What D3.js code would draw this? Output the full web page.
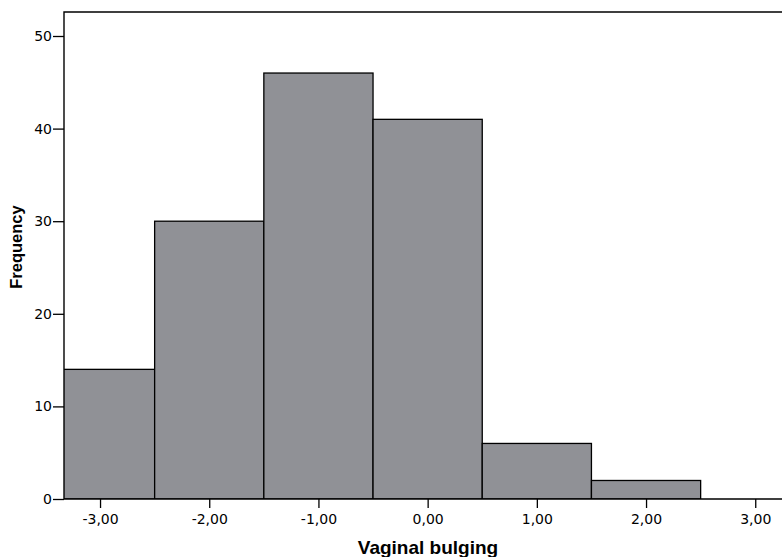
<!DOCTYPE html>
<html>
<head>
<meta charset="utf-8">
<script src="https://cdn.jsdelivr.net/npm/d3@7"></script>
<style>
  body { margin: 0; background: #fff; }
  svg text { font-family: "Liberation Sans", Arial, sans-serif; fill: #000; }
  .tick text { font-family: "DejaVu Sans", sans-serif; font-size: 14px; }
</style>
</head>
<body>
<div id="chart"></div>
<script>
var w = 782,
    h = 557,
    mLeft = 64, mRight = 782, mTop = 12, mBottom = 499;

// histogram bins (centre of each bin, width 1) and counts
var binCentres = [-3, -2, -1, 0, 1, 2],
    counts = [14, 30, 46, 41, 6, 2],
    xTicks = [-3, -2, -1, 0, 1, 2, 3],
    yTicks = [0, 10, 20, 30, 40, 50];

var x = d3.scaleLinear().domain([-3.33, 3.245]).range([mLeft, mRight]),
    y = d3.scaleLinear().domain([0, 50]).range([mBottom, 36]);

var svg = d3.select('#chart').append('svg')
    .attr('width', w)
    .attr('height', h);

svg.append('clipPath').attr('id', 'plotclip')
  .append('rect')
    .attr('x', mLeft).attr('y', mTop)
    .attr('width', mRight - mLeft).attr('height', mBottom - mTop);

// bars
svg.append('g').attr('clip-path', 'url(#plotclip)')
  .selectAll('rect')
    .data(binCentres)
  .enter().append('rect')
    .attr('x', function(d){ return x(d - 0.5); })
    .attr('y', function(d, i){ return y(counts[i]); })
    .attr('width', function(d){ return x(d + 0.5) - x(d - 0.5); })
    .attr('height', function(d, i){ return mBottom - y(counts[i]); })
    .style('fill', '#909196')
    .style('stroke', '#000')
    .style('stroke-width', 1.3);

// frame
svg.append('path')
    .attr('d', 'M' + mRight + ',' + mTop + 'H' + mLeft + 'V' + mBottom + 'H' + mRight)
    .style('fill', 'none')
    .style('stroke', '#000')
    .style('stroke-width', 1.4);

// y axis
var yAxis = svg.append('g')
    .attr('transform', 'translate(' + mLeft + ',0)')
    .call(d3.axisLeft(y).tickValues(yTicks).tickSize(11).tickPadding(1));
yAxis.attr('font-size', null).attr('font-family', null);
yAxis.select('.domain').remove();
yAxis.selectAll('line').style('stroke', '#000').style('stroke-width', 1.3);

// x axis
var fmt = function(d){ return d3.format('.2f')(d).replace('.', ',').replace('\u2212', '-'); };
var xAxis = svg.append('g')
    .attr('transform', 'translate(0,' + mBottom + ')')
    .call(d3.axisBottom(x).tickValues(xTicks).tickSize(9).tickPadding(6).tickFormat(fmt));
xAxis.attr('font-size', null).attr('font-family', null);
xAxis.select('.domain').remove();
xAxis.selectAll('line').style('stroke', '#000').style('stroke-width', 1.3);

// axis titles
svg.append('text')
    .attr('x', 428)
    .attr('y', 554)
    .attr('text-anchor', 'middle')
    .style('font-size', '19px')
    .style('font-weight', 'bold')
    .text('Vaginal bulging');

svg.append('text')
    .attr('transform', 'translate(22,247) rotate(-90)')
    .attr('text-anchor', 'middle')
    .style('font-size', '16.5px')
    .style('font-weight', 'bold')
    .text('Frequency');
</script>
</body>
</html>
